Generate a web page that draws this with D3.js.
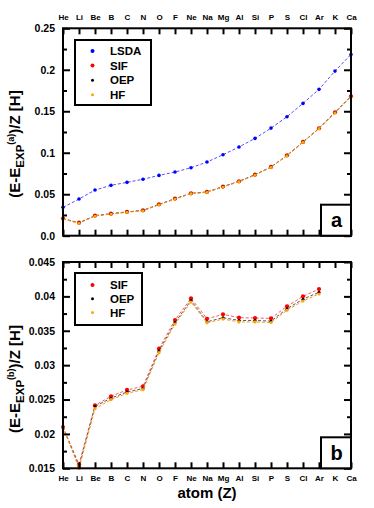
<!DOCTYPE html>
<html>
<head>
<meta charset="utf-8">
<script src="https://cdn.jsdelivr.net/npm/d3@7"></script>
<style>
  body { margin: 0; background: #fff; }
  svg { display: block; font-family: "Liberation Sans", Arial, sans-serif; font-weight: bold; }
</style>
</head>
<body>
<svg id="chart" width="374" height="508"></svg>
<script>
// data
var elements = ["He","Li","Be","B","C","N","O","F","Ne","Na","Mg","Al","Si","P","S","Cl","Ar","K","Ca"];

// panel a
var lsdaA = [0.0342,0.0442,0.0550,0.0607,0.0643,0.0680,0.0727,0.0767,0.0819,0.0888,0.0976,0.1069,0.1173,0.1297,0.1434,0.1595,0.1764,0.1984,0.2185];
var sifA  = [0.0206,0.0157,0.0242,0.0266,0.0287,0.0306,0.0378,0.0447,0.0511,0.0528,0.0592,0.0656,0.0736,0.0829,0.0969,0.1130,0.1295,0.1487,0.1680];
var oepA  = [0.0204,0.0154,0.0240,0.0264,0.0285,0.0304,0.0376,0.0445,0.0509,0.0526,0.0590,0.0654,0.0734,0.0827,0.0967,0.1128,0.1293,0.1485,0.1678];
var hfA   = [0.0201,0.0149,0.0237,0.0261,0.0282,0.0301,0.0373,0.0442,0.0506,0.0523,0.0587,0.0651,0.0731,0.0824,0.0964,0.1125,0.1290,0.1482,0.1675];

// panel b (He .. Ar)
var sifB = [0.0210,0.01558,0.02416,0.02547,0.02639,0.02692,0.03239,0.03656,0.03972,0.03675,0.03739,0.0369,0.03686,0.03681,0.03856,0.04001,0.04107];
var oepB = [0.0210,0.0153,0.0240,0.0252,0.0261,0.0266,0.0321,0.0362,0.0394,0.0363,0.0369,0.0365,0.0365,0.0364,0.0382,0.0396,0.0406];
var hfB  = [0.0210,0.0150,0.02367,0.02498,0.0259,0.02643,0.03181,0.03598,0.03918,0.03617,0.0367,0.03628,0.03628,0.0362,0.03798,0.03933,0.04035];

var ticksA = [0, 0.05, 0.1, 0.15, 0.2, 0.25];
var minorA = [0.025, 0.075, 0.125, 0.175, 0.225];
var ticksB = [0.015, 0.02, 0.025, 0.03, 0.035, 0.04, 0.045];
var minorB = [0.0175, 0.0225, 0.0275, 0.0325, 0.0375, 0.0425];

var series = {
  LSDA: {dot: "#0000ff", line: "#5050ff", r: 1.8},
  SIF:  {dot: "#ff0000", line: "#ff5a5a", r: 2.1},
  OEP:  {dot: "#000000", line: "#555555", r: 1.5},
  HF:   {dot: "#ffa500", line: "#f39a1a", r: 1.6}
};

var svg = d3.select("#chart");
var x = d3.scalePoint().domain(elements).range([63, 351]).padding(0);

function panel(cfg) {
  var y = d3.scaleLinear().domain(cfg.domain).range([cfg.bottom, cfg.top]);
  var g = svg.append("g");

  // series
  cfg.data.forEach(function(s) {
    var st = series[s.name];
    var pts = s.values.map(function(v, i) { return [elements[i], v]; });
    g.append("path")
      .datum(pts)
      .attr("fill", "none")
      .attr("stroke", st.line)
      .attr("stroke-width", 1)
      .attr("stroke-dasharray", "3,2")
      .attr("d", d3.line().x(function(d) { return x(d[0]); }).y(function(d) { return y(d[1]); }));
    g.selectAll(null)
      .data(pts)
      .enter()
      .append("circle")
      .attr("cx", function(d) { return x(d[0]); })
      .attr("cy", function(d) { return y(d[1]); })
      .attr("r", st.r)
      .attr("fill", st.dot);
  });

  // ticks, all inward
  function style(a) {
    a.select(".domain").remove();
    a.selectAll(".tick line").attr("stroke-width", 2);
  }
  var fmt = cfg.fmt;
  g.append("g").attr("transform", "translate(63,0)")
    .call(d3.axisLeft(y).tickValues(cfg.ticks).tickSize(-7).tickPadding(8).tickFormat(fmt))
    .call(style)
    .selectAll("text").style("font-size", "10.5px").style("font-weight", "bold").attr("fill", "#000")
    .style("font-family", "Liberation Sans, Arial, sans-serif");
  g.append("g").attr("transform", "translate(63,0)")
    .call(d3.axisLeft(y).tickValues(cfg.minor).tickSize(-4).tickFormat(""))
    .call(style);
  g.append("g").attr("transform", "translate(351,0)")
    .call(d3.axisRight(y).tickValues(cfg.ticks).tickSize(-7).tickFormat(""))
    .call(style);
  g.append("g").attr("transform", "translate(351,0)")
    .call(d3.axisRight(y).tickValues(cfg.minor).tickSize(-4).tickFormat(""))
    .call(style);

  var topAx = d3.axisTop(x).tickSize(-6).tickPadding(8);
  if (!cfg.topLabels) topAx.tickFormat("");
  g.append("g").attr("transform", "translate(0," + cfg.top + ")")
    .call(topAx).call(style)
    .selectAll("text").style("font-size", "8px").style("font-weight", "bold").attr("fill", "#000")
    .style("font-family", "Liberation Sans, Arial, sans-serif");

  var botAx = d3.axisBottom(x).tickSize(-6).tickPadding(7.5);
  if (!cfg.bottomLabels) botAx.tickFormat("");
  g.append("g").attr("transform", "translate(0," + cfg.bottom + ")")
    .call(botAx).call(style)
    .selectAll("text").style("font-size", "8px").style("font-weight", "bold").attr("fill", "#000")
    .style("font-family", "Liberation Sans, Arial, sans-serif");

  // frame
  g.append("rect")
    .attr("x", 63).attr("y", cfg.top)
    .attr("width", 351 - 63).attr("height", cfg.bottom - cfg.top)
    .attr("fill", "none").attr("stroke", "#000").attr("stroke-width", 2);

  // panel letter
  g.append("rect")
    .attr("x", 321).attr("y", cfg.bottom - 31)
    .attr("width", 30).attr("height", 31)
    .attr("fill", "#fff").attr("stroke", "#000").attr("stroke-width", 2);
  g.append("text")
    .attr("x", 336.5).attr("y", cfg.bottom - 8.5)
    .attr("text-anchor", "middle")
    .style("font-size", "20px")
    .text(cfg.letter);

  // legend
  var lg = g.append("g");
  lg.append("rect")
    .attr("x", cfg.legend.x).attr("y", cfg.legend.y)
    .attr("width", cfg.legend.w).attr("height", cfg.legend.h)
    .attr("fill", "#fff").attr("stroke", "#000").attr("stroke-width", 2);
  cfg.data.forEach(function(s, i) {
    var yy = cfg.legend.y0 + i * cfg.legend.dy;
    lg.append("circle").attr("cx", 92.5).attr("cy", yy).attr("r", s.name === "OEP" || s.name === "HF" ? 1.5 : 2)
      .attr("fill", series[s.name].dot);
    lg.append("text").attr("x", 110).attr("y", yy).attr("dy", "0.36em")
      .style("font-size", "11.5px").text(s.name);
  });

  // y label
  var t = svg.append("text")
    .attr("transform", "translate(" + 20 + "," + cfg.labelY + ") rotate(-90)")
    .attr("text-anchor", "middle")
    .style("font-size", "15px");
  t.append("tspan").text("(E-E");
  t.append("tspan").attr("dy", 4).style("font-size", "11.5px").text("EXP");
  t.append("tspan").attr("dy", -10).style("font-size", "9px").text("(" + cfg.letter + ")");
  t.append("tspan").attr("dy", 6).text(")/Z [H]");
}

panel({
  top: 28.3, bottom: 235.7, domain: [0, 0.25],
  ticks: ticksA, minor: minorA,
  fmt: function(d) { return d === 0 ? "0.0" : String(d); },
  topLabels: true, bottomLabels: false, letter: "a",
  data: [{name: "LSDA", values: lsdaA}, {name: "SIF", values: sifA}, {name: "OEP", values: oepA}, {name: "HF", values: hfA}],
  legend: {x: 75, y: 40, w: 76, h: 65, y0: 51, dy: 14.6},
  labelY: 144
});

panel({
  top: 262, bottom: 468.3, domain: [0.015, 0.045],
  ticks: ticksB, minor: minorB,
  fmt: function(d) { return String(d); },
  topLabels: false, bottomLabels: true, letter: "b",
  data: [{name: "SIF", values: sifB}, {name: "OEP", values: oepB}, {name: "HF", values: hfB}],
  legend: {x: 75, y: 273, w: 67, h: 52, y0: 285, dy: 13.8},
  labelY: 379
});

svg.append("text")
  .attr("x", 207).attr("y", 498)
  .attr("text-anchor", "middle")
  .style("font-size", "15px")
  .text("atom (Z)");
</script>
</body>
</html>
